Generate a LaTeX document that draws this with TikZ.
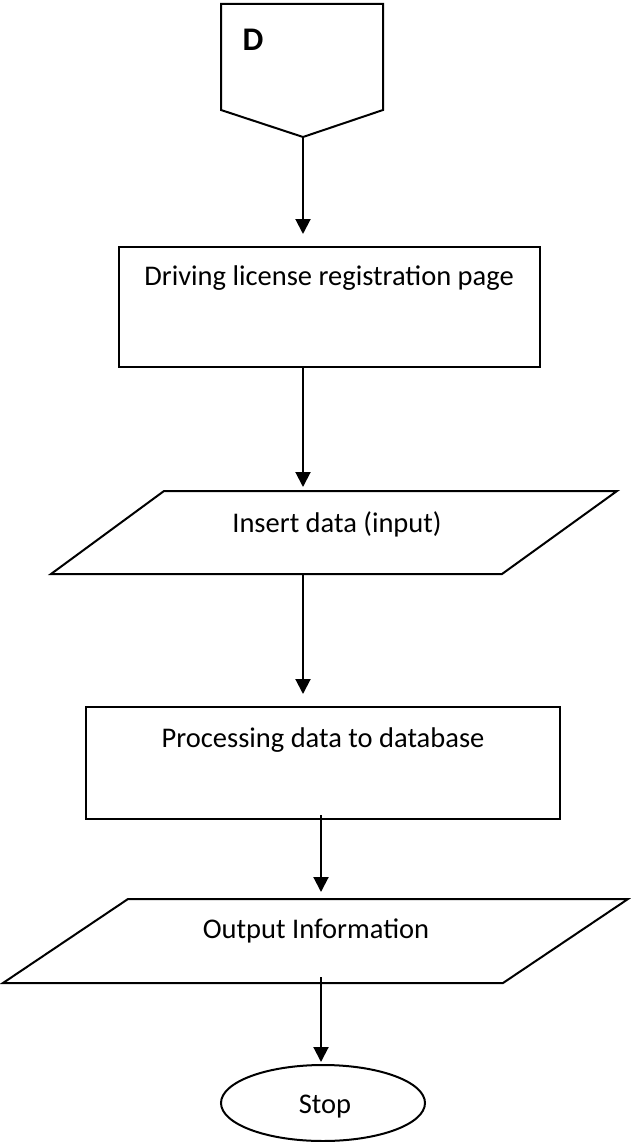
\documentclass[tikz,border=0pt]{standalone}
\usepackage{fontspec}
\setmainfont{Carlito}
\usetikzlibrary{arrows.meta,shapes.geometric}
\begin{document}
\begin{tikzpicture}[x=1pt,y=-1pt,
  outline/.style={draw=black, line width=2pt, line join=miter},
  lbl/.style={font=\fontsize{28.5}{32}\selectfont, inner sep=0pt, anchor=base},
  arr/.style={draw=black, line width=2pt, -{Triangle[width=15pt,length=15pt]}}]
\useasboundingbox (0,0) rectangle (630,1142);
% off-page connector D
\draw[outline] (221,4) -- (383,4) -- (383,110) -- (303,137) -- (221,110) -- cycle;
\coordinate (dtip) at (303,137);
\node[lbl, font=\bfseries\fontsize{33}{36}\selectfont] (dlbl) at (253,51) {D};
% box 1
\node[outline, minimum width=421pt, minimum height=120pt, inner sep=0pt] (b1) at (329.5,307) {};
\node[lbl] (t1) at (329,285) {Driving license registration page};
% parallelogram 1
\draw[outline] (51,574) -- (164,491) -- (617,491) -- (502,574) -- cycle;
\coordinate (p1top) at (330,491);
\coordinate (p1bot) at (330,574);
\node[lbl] (t2) at (337,532) {Insert data (input)};
% box 2
\node[outline, minimum width=474pt, minimum height=112pt, inner sep=0pt] (b2) at (323,763) {};
\node[lbl] (t3) at (323,747) {Processing data to database};
% parallelogram 2
\draw[outline] (3,983) -- (128,899) -- (628,899) -- (503,983) -- cycle;
\coordinate (p2top) at (316,899);
\coordinate (p2bot) at (316,983);
\node[lbl] (t4) at (316,938) {Output Information};
% stop
\node[outline, ellipse, minimum width=204pt, minimum height=76pt, inner sep=0pt] (stop) at (323,1103) {};
\node[lbl] (t5) at (325,1113) {Stop};
% connectors
\draw[arr] (dtip) -- ([yshift=12pt]b1.north -| dtip);
\draw[arr] (b1.south -| 303,0) -- ([yshift=4pt]p1top -| 303,0);
\draw[arr] (p1bot -| 303,0) -- ([yshift=12pt]b2.north -| 303,0);
\draw[arr] ([yshift=5pt]b2.south -| 321,0) -- ([yshift=7pt]p2top -| 321,0);
\draw[arr] ([yshift=6pt]p2bot -| 321,0) -- ([yshift=2pt]stop.north -| 321,0);
\end{tikzpicture}
\end{document}
